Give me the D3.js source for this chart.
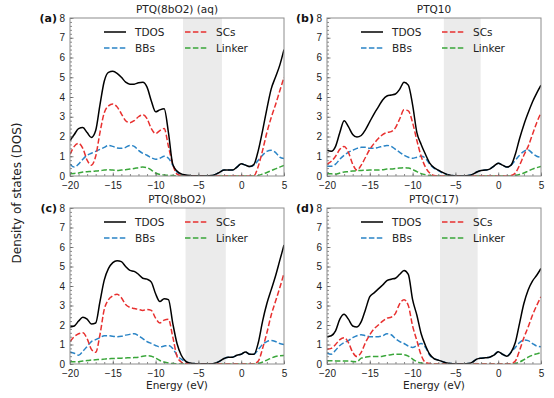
<!DOCTYPE html>
<html>
<head>
  <meta charset="utf-8">
  <title>PTQ density of states</title>
  <script src="https://d3js.org/d3.v7.min.js"></script>
  <style>
    body { margin: 0; background: #fff; }
    svg { font-family: "DejaVu Sans", sans-serif; }
    .tick text { font-size: 10px; fill: #222; }
    .panel-title { font-size: 10.5px; fill: #222; }
    .panel-letter { font-size: 11px; font-weight: bold; fill: #111; }
    .legend text { font-size: 10.5px; fill: #222; }
    .axis-label { font-size: 10.5px; fill: #222; }
  </style>
</head>
<body>
<script>
  // energy grid (eV), shared by all panels
  const energy = [-20,-19.5,-19,-18.5,-18,-17.5,-17,-16.5,-16,-15.5,-15,-14.5,-14,-13.5,-13,-12.5,-12,-11.5,-11,-10.5,
    -10,-9.5,-9,-8.5,-8,-7.5,-7,-6.5,-6,-5.5,-5,-4.5,-4,-3.5,-3,-2.5,-2,-1.5,-1,-0.5,
    0,0.5,1,1.5,2,2.5,3,3.5,4,4.5,5];

  // (a) PTQ(8bO2) (aq)
  const tdosA = [1.8,2.1,2.4,2.45,2.2,1.95,2.3,3.6,4.8,5.25, 5.3,5.2,5.0,4.75,4.65,4.65,4.72,4.75,4.5,3.8,
    3.25,3.35,3.4,2.2,0.6,0.25,0.1,0.05,0.02,0, 0,0,0,0.02,0.08,0.2,0.3,0.3,0.3,0.45,
    0.62,0.55,0.48,0.6,1.3,2.3,3.4,4.4,5.0,5.6,6.4];
  const scsA = [1.1,1.5,1.65,1.4,0.8,0.55,1.0,2.2,3.2,3.55, 3.65,3.5,3.15,2.8,2.7,2.8,3.0,3.1,2.9,2.4,
    2.15,2.3,2.4,1.5,0.6,0.1,0.02,0,0,0, 0,0,0,0,0,0,0,0,0,0,
    0,0,0,0.02,0.5,1.3,2.2,2.95,3.6,4.3,5.0];
  const bbsA = [0.6,0.45,0.6,0.85,1.05,1.15,1.25,1.35,1.45,1.55, 1.5,1.42,1.4,1.45,1.55,1.5,1.3,1.15,1.05,0.92,
    0.85,0.9,1.0,0.9,0.55,0.2,0.08,0.03,0.01,0, 0,0,0,0.02,0.08,0.2,0.3,0.3,0.3,0.45,
    0.62,0.55,0.48,0.55,0.8,1.05,1.25,1.3,1.2,0.95,0.88];
  const linkerA = [0.12,0.13,0.15,0.2,0.22,0.23,0.25,0.27,0.3,0.32, 0.3,0.28,0.3,0.32,0.35,0.38,0.42,0.45,0.42,0.3,
    0.15,0.08,0.05,0.03,0.02,0.01,0,0,0,0, 0,0,0,0,0,0,0,0,0,0,
    0,0,0,0,0.03,0.1,0.18,0.27,0.36,0.45,0.53];

  // (b) PTQ10
  const tdosB = [1.3,1.25,1.5,2.2,2.8,2.5,2.1,1.97,2.05,2.35, 2.75,3.15,3.5,3.85,4.05,4.1,4.15,4.4,4.75,4.6,
    3.6,2.2,1.6,1.1,0.65,0.42,0.3,0.18,0.08,0.03, 0,0,0,0.02,0.08,0.2,0.28,0.3,0.35,0.5,
    0.65,0.55,0.45,0.55,1.1,1.9,2.6,3.2,3.75,4.2,4.6];
  const scsB = [0.6,0.75,1.0,1.35,1.5,1.2,0.6,0.3,0.55,0.95, 1.35,1.65,1.9,2.1,2.2,2.25,2.45,2.9,3.35,3.3,
    2.7,1.8,1.0,0.45,0.15,0.03,0,0,0,0, 0,0,0,0,0,0,0,0,0,0,
    0,0,0,0.02,0.15,0.55,1.05,1.5,2.1,2.7,3.2];
  const bbsB = [0.5,0.5,0.6,0.85,1.05,1.2,1.3,1.4,1.45,1.45, 1.4,1.4,1.45,1.5,1.55,1.5,1.35,1.2,1.05,0.95,
    0.9,0.95,1.0,0.9,0.6,0.4,0.28,0.16,0.08,0.03, 0,0,0,0.02,0.08,0.2,0.28,0.3,0.35,0.5,
    0.65,0.55,0.45,0.55,0.8,1.05,1.25,1.32,1.15,1.0,0.95];
  const linkerB = [0.12,0.11,0.1,0.15,0.2,0.22,0.25,0.27,0.28,0.29, 0.3,0.3,0.3,0.32,0.35,0.36,0.38,0.4,0.42,0.4,
    0.33,0.22,0.12,0.06,0.02,0.01,0,0,0,0, 0,0,0,0,0,0,0,0,0,0,
    0,0,0,0,0.02,0.08,0.15,0.25,0.35,0.42,0.48];

  // (c) PTQ(8bO2)
  const tdosC = [1.9,1.95,2.2,2.4,2.3,2.05,2.1,3.2,4.3,4.9, 5.2,5.3,5.25,5.0,4.8,4.75,4.6,4.4,4.35,4.2,
    3.6,3.2,3.35,3.3,2.1,1.05,0.45,0.15,0.05,0.02, 0,0,0,0,0.05,0.15,0.28,0.35,0.35,0.45,
    0.5,0.62,0.5,0.5,1.1,2.2,3.1,3.8,4.5,5.3,6.1];
  const scsC = [1.15,1.4,1.55,1.6,1.3,0.75,0.6,1.5,2.8,3.3, 3.5,3.58,3.4,3.05,2.9,2.85,2.8,2.75,2.8,2.75,
    2.35,2.1,2.25,2.3,1.4,0.4,0.1,0.02,0,0, 0,0,0,0,0,0,0,0,0,0,
    0,0,0,0.02,0.15,0.8,1.6,2.5,3.2,3.9,4.65];
  const bbsC = [0.62,0.55,0.45,0.65,0.9,1.15,1.25,1.35,1.45,1.45, 1.42,1.4,1.42,1.48,1.52,1.55,1.45,1.3,1.15,1.05,
    0.95,0.88,0.92,0.95,0.8,0.45,0.25,0.12,0.05,0.02, 0,0,0,0,0.05,0.15,0.28,0.35,0.35,0.45,
    0.5,0.62,0.5,0.5,0.75,1.0,1.15,1.2,1.15,1.05,1.0];
  const linkerC = [0.12,0.12,0.12,0.15,0.18,0.2,0.22,0.23,0.25,0.27, 0.28,0.29,0.3,0.31,0.32,0.33,0.35,0.4,0.42,0.4,
    0.3,0.18,0.1,0.05,0.02,0.01,0,0,0,0, 0,0,0,0,0,0,0,0,0,0,
    0,0,0,0,0.02,0.1,0.2,0.3,0.38,0.42,0.43];

  // (d) PTQ(C17)
  const tdosD = [1.4,1.45,1.7,2.3,2.55,2.3,1.95,1.9,2.17,2.8, 3.45,3.65,3.85,4.05,4.28,4.35,4.4,4.6,4.8,4.6,
    3.3,2.5,1.55,0.95,0.5,0.28,0.2,0.12,0.05,0.02, 0,0,0,0.02,0.1,0.25,0.3,0.32,0.35,0.45,
    0.63,0.5,0.4,0.6,1.1,2.1,3.1,3.8,4.25,4.55,4.9];
  const scsD = [0.75,0.8,1.0,1.25,1.35,1.1,0.6,0.38,0.6,1.1, 1.5,1.8,2.0,2.2,2.35,2.4,2.6,3.1,3.3,3.0,
    1.95,1.2,0.45,0.08,0.02,0,0,0,0,0, 0,0,0,0,0,0,0,0,0,0,
    0,0,0,0.02,0.15,0.7,1.35,1.9,2.5,3.0,3.45];
  const bbsD = [0.55,0.5,0.7,0.95,1.1,1.2,1.35,1.45,1.5,1.45, 1.4,1.4,1.4,1.45,1.55,1.5,1.3,1.15,1.05,0.92,
    0.85,0.95,1.05,0.85,0.45,0.28,0.2,0.12,0.05,0.02, 0,0,0,0.02,0.1,0.25,0.3,0.32,0.35,0.45,
    0.63,0.5,0.4,0.6,0.85,1.1,1.23,1.2,1.05,0.92,0.88];
  const linkerD = [0.17,0.17,0.16,0.16,0.15,0.15,0.13,0.12,0.3,0.35, 0.38,0.38,0.38,0.4,0.45,0.48,0.5,0.5,0.48,0.4,
    0.25,0.12,0.05,0.02,0,0,0,0,0,0, 0,0,0,0,0,0,0,0,0,0,
    0,0,0,0,0.02,0.1,0.22,0.35,0.45,0.52,0.58];

  const panelTitles = ["PTQ(8bO2) (aq)", "PTQ10", "PTQ(8bO2)", "PTQ(C17)"];
  const panelLetters = ["(a)", "(b)", "(c)", "(d)"];
  const gapBands = [[-6.8, -2.25], [-6.35, -2.05], [-6.5, -1.8], [-6.8, -2.4]];
  const seriesNames = ["TDOS", "SCs", "BBs", "Linker"];
  const panelData = [
    [tdosA, scsA, bbsA, linkerA],
    [tdosB, scsB, bbsB, linkerB],
    [tdosC, scsC, bbsC, linkerC],
    [tdosD, scsD, bbsD, linkerD]
  ];
  const xTicks = [-20, -15, -10, -5, 0, 5];
  const yTicks = [0, 1, 2, 3, 4, 5, 6, 7, 8];

  // look of each series
  const seriesStyle = {
    TDOS:   { color: "#000000", dash: null },
    SCs:    { color: "#e8302f", dash: "5.5,2.4" },
    BBs:    { color: "#2a84c6", dash: "5.5,2.4" },
    Linker: { color: "#3aa63a", dash: "5.5,2.4" }
  };

  const width = 554, height = 398;
  // axes boxes: left, top, right, bottom
  const boxes = [
    { x0: 70,  y0: 18,  x1: 284, y1: 176 },
    { x0: 327, y0: 18,  x1: 541, y1: 176 },
    { x0: 70,  y0: 208, x1: 284, y1: 364 },
    { x0: 327, y0: 208, x1: 541, y1: 364 }
  ];

  const svg = d3.select("body").append("svg")
      .attr("width", width)
      .attr("height", height);

  panelData.forEach((series, i) => {
    const b = boxes[i];
    const x = d3.scaleLinear().domain([-20, 5]).range([b.x0, b.x1]);
    const y = d3.scaleLinear().domain([0, 8]).range([b.y1, b.y0]);
    const g = svg.append("g");

    // clip the curves to the axes box
    const clipId = "clip" + i;
    svg.append("clipPath").attr("id", clipId)
      .append("rect")
        .attr("x", b.x0).attr("y", b.y0)
        .attr("width", b.x1 - b.x0).attr("height", b.y1 - b.y0);

    // band gap shading
    g.append("rect")
      .attr("x", x(gapBands[i][0]))
      .attr("y", b.y0)
      .attr("width", x(gapBands[i][1]) - x(gapBands[i][0]))
      .attr("height", b.y1 - b.y0)
      .attr("fill", "#ebebeb");

    const line = d3.line()
      .x((d, k) => x(energy[k]))
      .y(d => y(d))
      .curve(d3.curveMonotoneX);

    // draw components first, total on top of them
    [3, 2, 1, 0].forEach(s => {
      const st = seriesStyle[seriesNames[s]];
      g.append("path")
        .datum(series[s])
        .attr("clip-path", `url(#${clipId})`)
        .attr("d", line)
        .attr("fill", "none")
        .attr("stroke", st.color)
        .attr("stroke-width", 1.5)
        .attr("stroke-dasharray", st.dash);
    });

    // axes with inward ticks
    const xAxis = g.append("g")
      .attr("transform", `translate(0,${b.y1})`)
      .call(d3.axisBottom(x).tickValues(xTicks).tickSizeInner(-3.5).tickSizeOuter(0).tickPadding(5)
        .tickFormat(d => d < 0 ? "\u2212" + Math.abs(d) : d));
    const xMinor = g.append("g")
      .attr("transform", `translate(0,${b.y1})`)
      .call(d3.axisBottom(x).tickValues(d3.range(-20, 5.01, 1)).tickSize(-2).tickFormat(""));
    const yAxis = g.append("g")
      .attr("transform", `translate(${b.x0},0)`)
      .call(d3.axisLeft(y).tickValues(yTicks).tickSizeInner(-3.5).tickSizeOuter(0).tickPadding(5));
    const yMinor = g.append("g")
      .attr("transform", `translate(${b.x0},0)`)
      .call(d3.axisLeft(y).tickValues(d3.range(0, 8.01, 0.2)).tickSize(-2).tickFormat(""));

    [xAxis, xMinor, yAxis, yMinor].forEach(a => {
      a.select(".domain").remove();
      a.selectAll(".tick line").attr("stroke", "#555").attr("stroke-width", 0.7);
    });
    xAxis.selectAll(".tick text").attr("dy", "0.75em");

    // frame
    g.append("rect")
      .attr("x", b.x0).attr("y", b.y0)
      .attr("width", b.x1 - b.x0).attr("height", b.y1 - b.y0)
      .attr("fill", "none")
      .attr("stroke", "#8c8c8c")
      .attr("stroke-width", 1);

    // title and panel letter
    g.append("text")
      .attr("class", "panel-title")
      .attr("x", (b.x0 + b.x1) / 2)
      .attr("y", b.y0 - 5)
      .attr("text-anchor", "middle")
      .text(panelTitles[i]);
    g.append("text")
      .attr("class", "panel-letter")
      .attr("x", b.x0 - 13)
      .attr("y", b.y0 + 4)
      .attr("text-anchor", "end")
      .text(panelLetters[i]);

    // legend: two columns, two rows
    const legend = g.append("g").attr("class", "legend");
    const legendPos = [
      { lx: 34, ly: 14 },   // TDOS
      { lx: 115, ly: 14 },  // SCs
      { lx: 34, ly: 30 },   // BBs
      { lx: 115, ly: 30 }   // Linker
    ];
    seriesNames.forEach((name, s) => {
      const p = legendPos[s];
      const st = seriesStyle[name];
      legend.append("line")
        .attr("x1", b.x0 + p.lx).attr("x2", b.x0 + p.lx + 22)
        .attr("y1", b.y0 + p.ly).attr("y2", b.y0 + p.ly)
        .attr("stroke", st.color)
        .attr("stroke-width", 1.5)
        .attr("stroke-dasharray", st.dash);
      legend.append("text")
        .attr("x", b.x0 + p.lx + 31)
        .attr("y", b.y0 + p.ly)
        .attr("dy", "0.35em")
        .text(name);
    });
  });

  // shared axis labels
  svg.append("text")
    .attr("class", "axis-label")
    .attr("x", (boxes[2].x0 + boxes[2].x1) / 2)
    .attr("y", 389)
    .attr("text-anchor", "middle")
    .text("Energy (eV)");
  svg.append("text")
    .attr("class", "axis-label")
    .attr("x", (boxes[3].x0 + boxes[3].x1) / 2)
    .attr("y", 389)
    .attr("text-anchor", "middle")
    .text("Energy (eV)");
  svg.append("text")
    .attr("class", "axis-label")
    .attr("transform", "translate(21,193) rotate(-90)")
    .attr("text-anchor", "middle")
    .style("font-size", "12px")
    .text("Density of states (DOS)");
</script>
</body>
</html>
